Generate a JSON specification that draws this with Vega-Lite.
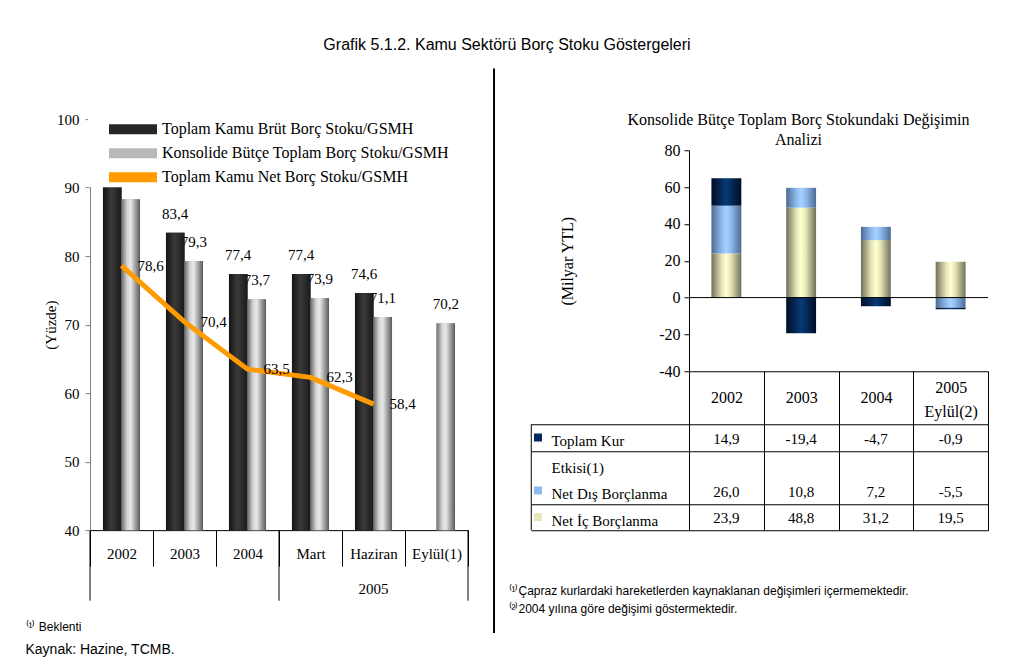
{
  "$schema": "https://vega.github.io/schema/vega-lite/v6.json",
  "padding": {"left": 25, "top": 36, "right": 10, "bottom": 5},
  "title": {"text": "Grafik 5.1.2. Kamu Sektörü Borç Stoku Göstergeleri", "font": "Liberation Sans", "fontSize": 16, "fontWeight": "normal", "color": "black", "anchor": "middle", "offset": 14.5},
  "datasets": {
    "left": [
      {"cat": "2002", "series": "Toplam Kamu Brüt Borç Stoku/GSMH", "value": 91.0},
      {"cat": "2002", "series": "Konsolide Bütçe Toplam Borç Stoku/GSMH", "value": 88.3},
      {"cat": "2002", "series": "Toplam Kamu Net Borç Stoku/GSMH", "value": 78.6},
      {"cat": "2003", "series": "Toplam Kamu Brüt Borç Stoku/GSMH", "value": 83.4},
      {"cat": "2003", "series": "Konsolide Bütçe Toplam Borç Stoku/GSMH", "value": 79.3},
      {"cat": "2003", "series": "Toplam Kamu Net Borç Stoku/GSMH", "value": 70.4},
      {"cat": "2004", "series": "Toplam Kamu Brüt Borç Stoku/GSMH", "value": 77.4},
      {"cat": "2004", "series": "Konsolide Bütçe Toplam Borç Stoku/GSMH", "value": 73.7},
      {"cat": "2004", "series": "Toplam Kamu Net Borç Stoku/GSMH", "value": 63.5},
      {"cat": "Mart", "series": "Toplam Kamu Brüt Borç Stoku/GSMH", "value": 77.4},
      {"cat": "Mart", "series": "Konsolide Bütçe Toplam Borç Stoku/GSMH", "value": 73.9},
      {"cat": "Mart", "series": "Toplam Kamu Net Borç Stoku/GSMH", "value": 62.3},
      {"cat": "Haziran", "series": "Toplam Kamu Brüt Borç Stoku/GSMH", "value": 74.6},
      {"cat": "Haziran", "series": "Konsolide Bütçe Toplam Borç Stoku/GSMH", "value": 71.1},
      {"cat": "Haziran", "series": "Toplam Kamu Net Borç Stoku/GSMH", "value": 58.4},
      {"cat": "Eylül(1)", "series": "Konsolide Bütçe Toplam Borç Stoku/GSMH", "value": 70.2}
    ],
    "right": [
      {"year": "2002", "series": "Toplam Kur Etkisi(1)", "value": 14.9, "ord": 3},
      {"year": "2002", "series": "Net Dış Borçlanma", "value": 26.0, "ord": 2},
      {"year": "2002", "series": "Net İç Borçlanma", "value": 23.9, "ord": 1},
      {"year": "2003", "series": "Toplam Kur Etkisi(1)", "value": -19.4, "ord": 3},
      {"year": "2003", "series": "Net Dış Borçlanma", "value": 10.8, "ord": 2},
      {"year": "2003", "series": "Net İç Borçlanma", "value": 48.8, "ord": 1},
      {"year": "2004", "series": "Toplam Kur Etkisi(1)", "value": -4.7, "ord": 3},
      {"year": "2004", "series": "Net Dış Borçlanma", "value": 7.2, "ord": 2},
      {"year": "2004", "series": "Net İç Borçlanma", "value": 31.2, "ord": 1},
      {"year": "2005", "series": "Toplam Kur Etkisi(1)", "value": -0.9, "ord": 3},
      {"year": "2005", "series": "Net Dış Borçlanma", "value": -5.5, "ord": 2},
      {"year": "2005", "series": "Net İç Borçlanma", "value": 19.5, "ord": 1}
    ]
  },
  "spacing": 12,
  "center": true,
  "resolve": {"scale": {"color": "independent"}, "legend": {"color": "independent"}},
  "hconcat": [
    {
      "width": 378,
      "height": 411,
      "data": {"name": "left"},
      "title": {"text": "⁽¹⁾ Beklenti", "subtitle": "Kaynak: Hazine, TCMB.", "orient": "bottom", "anchor": "start", "frame": "bounds", "font": "Liberation Sans", "fontSize": 12, "fontWeight": "normal", "color": "black", "subtitleFont": "Liberation Sans", "subtitleFontSize": 14, "subtitleColor": "black", "subtitlePadding": 9, "offset": -12, "dx": -18},
      "encoding": {
        "x": {"field": "cat", "type": "nominal", "title": null,
          "scale": {"domain": ["2002", "2003", "2004", "Mart", "Haziran", "Eylül(1)"], "paddingInner": 0, "paddingOuter": 0},
          "axis": {"tickBand": "extent", "tickSize": 36, "labelPadding": -12.5, "labelBaseline": "middle", "labelAngle": 0, "labelFontSize": 15, "domainColor": "black", "tickColor": "black"}},
        "y": {"field": "value", "type": "quantitative", "title": "(Yüzde)",
          "scale": {"domain": [40, 100], "nice": false, "zero": false},
          "axis": {"values": [40, 50, 60, 70, 80, 90, 100], "tickSize": 5, "labelPadding": 6, "domainColor": "#808080", "tickColor": "#808080", "labelFontSize": 15, "titleFontSize": 15, "titlePadding": -2}}
      },
      "layer": [
        {
          "transform": [{"filter": "datum.series != 'Toplam Kamu Net Borç Stoku/GSMH'"}],
          "mark": {"type": "bar", "clip": true},
          "encoding": {
            "xOffset": {"field": "series", "type": "nominal", "scale": {"domain": ["Toplam Kamu Brüt Borç Stoku/GSMH", "Konsolide Bütçe Toplam Borç Stoku/GSMH"], "paddingInner": 0, "paddingOuter": 0.7}},
            "color": {"field": "series", "type": "nominal",
              "scale": {"domain": ["Toplam Kamu Brüt Borç Stoku/GSMH", "Konsolide Bütçe Toplam Borç Stoku/GSMH", "Toplam Kamu Net Borç Stoku/GSMH"],
                "range": ["#262626", "#b8b8b8", "#ff9a00"]},
              "legend": {"orient": "none", "legendX": -2, "legendY": -2, "zindex": 2, "fillColor": "white", "title": null, "symbolType": "M-2.4,-0.5H2.4V0.5H-2.4Z", "symbolSize": 400, "symbolStrokeWidth": 0, "symbolOffset": 33, "labelOffset": 19, "labelFontSize": 16, "labelFont": "Liberation Serif", "labelColor": "black", "rowPadding": 6, "padding": 2, "labelLimit": 400}}
          }
        },
        {
          "transform": [{"filter": "datum.series == 'Konsolide Bütçe Toplam Borç Stoku/GSMH'"}],
          "mark": {"type": "text", "baseline": "bottom", "dy": -11, "fontSize": 15, "clip": true},
          "encoding": {
            "xOffset": {"field": "series", "type": "nominal"},
            "text": {"field": "value", "type": "quantitative", "format": ".1f"}
          }
        },
        {
          "transform": [{"filter": "datum.series == 'Toplam Kamu Brüt Borç Stoku/GSMH'"}],
          "mark": {"type": "bar", "clip": true, "color": {"gradient": "linear", "x1": 0, "y1": 0, "x2": 1, "y2": 0, "stops": [{"offset": 0, "color": "#141414"}, {"offset": 0.45, "color": "#3a3a3a"}, {"offset": 1, "color": "#1a1a1a"}]}},
          "encoding": {"xOffset": {"field": "series", "type": "nominal"}}
        },
        {
          "transform": [{"filter": "datum.series == 'Konsolide Bütçe Toplam Borç Stoku/GSMH'"}],
          "mark": {"type": "bar", "clip": true, "color": {"gradient": "linear", "x1": 0, "y1": 0, "x2": 1, "y2": 0, "stops": [{"offset": 0, "color": "#6a6a6a"}, {"offset": 0.3, "color": "#d4d4d4"}, {"offset": 0.5, "color": "#e8e8e8"}, {"offset": 0.75, "color": "#a0a0a0"}, {"offset": 1, "color": "#5a5a5a"}]}},
          "encoding": {"xOffset": {"field": "series", "type": "nominal"}}
        },
        {
          "transform": [{"filter": "datum.series == 'Toplam Kamu Brüt Borç Stoku/GSMH'"}],
          "mark": {"type": "text", "baseline": "bottom", "dy": -11, "fontSize": 15, "clip": true},
          "encoding": {
            "xOffset": {"field": "series", "type": "nominal"},
            "text": {"field": "value", "type": "quantitative", "format": ".1f"}
          }
        },
        {
          "transform": [{"filter": "datum.series == 'Toplam Kamu Net Borç Stoku/GSMH'"}],
          "mark": {"type": "line", "strokeWidth": 5},
          "encoding": {"color": {"field": "series", "type": "nominal"}}
        },
        {
          "transform": [{"filter": "datum.series == 'Toplam Kamu Net Borç Stoku/GSMH'"}],
          "mark": {"type": "text", "align": "left", "baseline": "middle", "dx": 16, "fontSize": 15},
          "encoding": {"text": {"field": "value", "type": "quantitative", "format": ".1f"}}
        },
        {
          "transform": [{"filter": "(datum.cat == '2002' || datum.cat == 'Mart') && datum.series == 'Konsolide Bütçe Toplam Borç Stoku/GSMH'"}],
          "mark": {"type": "rule", "color": "black"},
          "encoding": {"x": {"field": "cat", "type": "nominal", "bandPosition": 0}, "y": {"datum": 40}, "y2": {"datum": 29.7}}
        },
        {
          "transform": [{"filter": "datum.cat == 'Eylül(1)'"}],
          "mark": {"type": "rule", "color": "black"},
          "encoding": {"x": {"field": "cat", "type": "nominal", "bandPosition": 1}, "y": {"datum": 40}, "y2": {"datum": 29.7}}
        },
        {
          "transform": [{"filter": "datum.cat == 'Haziran' && datum.series == 'Konsolide Bütçe Toplam Borç Stoku/GSMH'"}],
          "mark": {"type": "text", "baseline": "middle", "fontSize": 15},
          "encoding": {"x": {"field": "cat", "type": "nominal"}, "y": {"datum": 31.4}, "text": {"datum": "2005"}}
        },
        {
          "transform": [{"filter": "datum.cat == 'Eylül(1)'"}],
          "mark": {"type": "rule", "color": "black", "strokeWidth": 2},
          "encoding": {"x": {"field": "cat", "type": "nominal", "bandPosition": 1.413}, "y": {"datum": 107.4}, "y2": {"datum": 25}}
        }
      ]
    },
    {
      "spacing": 53,
      "bounds": "flush",
      "vconcat": [
        {
          "width": 299,
          "height": 221,
          "data": {"name": "right"},
          "title": {"text": ["Konsolide Bütçe Toplam Borç Stokundaki Değişimin", "Analizi"], "font": "Liberation Serif", "fontSize": 16, "fontWeight": "normal", "color": "black", "lineHeight": 20, "anchor": "middle", "dx": -40, "offset": -6},
          "transform": [
            {"stack": "value", "groupby": ["year"], "sort": [{"field": "ord"}], "as": ["v0", "v1"]}
          ],
          "layer": [
            {
              "transform": [{"filter": "datum.series == 'Net İç Borçlanma'"}],
              "mark": {"type": "bar", "width": {"band": 0.4}, "color": {"gradient": "linear", "x1": 0, "y1": 0, "x2": 1, "y2": 0, "stops": [{"offset": 0, "color": "#707058"}, {"offset": 0.35, "color": "#e6e6b8"}, {"offset": 0.5, "color": "#ffffd0"}, {"offset": 0.65, "color": "#e6e6b8"}, {"offset": 1, "color": "#707058"}]}},
              "encoding": {
                "x": {"field": "year", "type": "nominal", "title": null,
                  "scale": {"paddingInner": 0, "paddingOuter": 0},
                  "axis": {"tickBand": "extent", "tickSize": 53, "labelBaseline": "middle", "labelLineHeight": 24, "labelAngle": 0, "labelFontSize": 16, "domainColor": "black", "tickColor": "black",
                    "labelPadding": {"condition": {"test": "datum.value == '2005'", "value": -37}, "value": -27},
                    "labelExpr": "datum.value == '2005' ? ['2005', 'Eylül(2)'] : datum.label"}},
                "y": {"field": "v1", "type": "quantitative", "title": "(Milyar YTL)",
                  "scale": {"domain": [-40, 80], "nice": false},
                  "axis": {"values": [-40, -20, 0, 20, 40, 60, 80], "format": "d", "labelOverlap": false, "tickSize": 5, "labelPadding": 4, "labelFontSize": 16, "titleFontSize": 16, "titlePadding": 83}},
                "y2": {"field": "v0"}
              }
            },
            {
              "transform": [{"filter": "datum.series == 'Net Dış Borçlanma'"}],
              "mark": {"type": "bar", "width": {"band": 0.4}, "color": {"gradient": "linear", "x1": 0, "y1": 0, "x2": 1, "y2": 0, "stops": [{"offset": 0, "color": "#4d6a8f"}, {"offset": 0.35, "color": "#8fbcf0"}, {"offset": 0.5, "color": "#a6d2ff"}, {"offset": 0.65, "color": "#8fbcf0"}, {"offset": 1, "color": "#4d6a8f"}]}},
              "encoding": {
                "x": {"field": "year", "type": "nominal"},
                "y": {"field": "v1", "type": "quantitative", "title": "(Milyar YTL)",
                  "axis": {"values": [-40, -20, 0, 20, 40, 60, 80], "format": "d", "labelOverlap": false, "tickSize": 5, "labelPadding": 4, "labelFontSize": 16, "titleFontSize": 16, "titlePadding": 83}},
                "y2": {"field": "v0"}
              }
            },
            {
              "transform": [{"filter": "datum.series == 'Toplam Kur Etkisi(1)'"}],
              "mark": {"type": "bar", "width": {"band": 0.4}, "color": {"gradient": "linear", "x1": 0, "y1": 0, "x2": 1, "y2": 0, "stops": [{"offset": 0, "color": "#000d26"}, {"offset": 0.5, "color": "#083a76"}, {"offset": 1, "color": "#000d26"}]}},
              "encoding": {
                "x": {"field": "year", "type": "nominal"},
                "y": {"field": "v1", "type": "quantitative", "title": "(Milyar YTL)",
                  "axis": {"values": [-40, -20, 0, 20, 40, 60, 80], "format": "d", "labelOverlap": false, "tickSize": 5, "labelPadding": 4, "labelFontSize": 16, "titleFontSize": 16, "titlePadding": 83}},
                "y2": {"field": "v0"}
              }
            },
            {
              "transform": [{"filter": "datum.year == '2002' && datum.ord == 1"}],
              "mark": {"type": "rule", "color": "black"},
              "encoding": {"y": {"datum": 0, "type": "quantitative", "title": "(Milyar YTL)",
                "axis": {"values": [-40, -20, 0, 20, 40, 60, 80], "format": "d", "labelOverlap": false, "tickSize": 5, "labelPadding": 4, "labelFontSize": 16, "titleFontSize": 16, "titlePadding": 83}}}
            }
          ]
        },
        {
          "width": 299,
          "height": 106,
          "data": {"name": "right"},
          "title": {"text": ["⁽¹⁾Çapraz kurlardaki hareketlerden kaynaklanan değişimleri içermemektedir.", "⁽²⁾2004 yılına göre değişimi  göstermektedir."], "subtitle": " ", "subtitleFontSize": 10, "subtitlePadding": 0, "orient": "bottom", "anchor": "start", "frame": "bounds", "font": "Liberation Sans", "fontSize": 12, "fontWeight": "normal", "color": "black", "lineHeight": 18, "dx": -22, "offset": 55},
          "layer": [
            {
              "mark": {"type": "text", "fontSize": 15, "baseline": "middle", "dy": 1},
              "encoding": {
                "x": {"field": "year", "type": "nominal", "title": null,
                  "scale": {"paddingInner": 0, "paddingOuter": 0},
                  "axis": {"labels": false, "ticks": false, "domain": false, "grid": true, "tickBand": "extent", "gridColor": "black", "gridOpacity": 1}},
                "y": {"field": "series", "type": "nominal", "title": null,
                  "scale": {"domain": ["Toplam Kur Etkisi(1)", " ", "Net Dış Borçlanma", "Net İç Borçlanma"], "paddingInner": 0, "paddingOuter": 0},
                  "axis": {"tickBand": "extent", "tickSize": 158, "grid": true, "gridOpacity": 1, "domain": false,
                    "tickColor": {"condition": {"test": "datum.value == ' '", "value": "transparent"}, "value": "black"},
                    "gridColor": {"condition": {"test": "datum.value == ' '", "value": "transparent"}, "value": "black"},
                    "labelAlign": "left", "labelBaseline": "middle", "labelPadding": -20, "labelFontSize": 15, "labelLimit": 0, "labelOffset": 3,
                    "labelExpr": "datum.value == 'Toplam Kur Etkisi(1)' ? 'Toplam Kur' : (datum.value == ' ' ? 'Etkisi(1)' : datum.label)"}},
                "text": {"field": "value", "type": "quantitative", "format": ".1f"}
              }
            },
            {
              "transform": [{"filter": "datum.year == '2002'"}],
              "mark": {"type": "square", "size": 64, "opacity": 1, "filled": true},
              "encoding": {
                "x": {"field": "year", "type": "nominal", "bandPosition": -2.02},
                "y": {"field": "series", "type": "nominal"},
                "color": {"field": "series", "type": "nominal", "legend": null,
                  "scale": {"domain": ["Toplam Kur Etkisi(1)", "Net Dış Borçlanma", "Net İç Borçlanma"], "range": ["#04295a", "#8fbcf0", "#e6e6b8"]}}
              }
            },
            {
              "transform": [{"filter": "datum.year == '2002' && datum.ord == 1"}],
              "mark": {"type": "rule", "color": "black"},
              "encoding": {"x": {"field": "year", "type": "nominal", "bandPosition": -2.11}}
            }
          ]
        }
      ]
    }
  ],
  "config": {
    "view": {"stroke": null},
    "font": "Liberation Serif",
    "axis": {"labelFont": "Liberation Serif", "titleFont": "Liberation Serif", "labelColor": "black", "titleColor": "black", "titleFontWeight": "normal", "tickColor": "black", "domainColor": "black", "grid": false},
    "text": {"font": "Liberation Serif", "color": "black"},
    "locale": {"number": {"decimal": ",", "thousands": ".", "grouping": [3], "currency": ["", ""], "minus": "-"}}
  }
}
